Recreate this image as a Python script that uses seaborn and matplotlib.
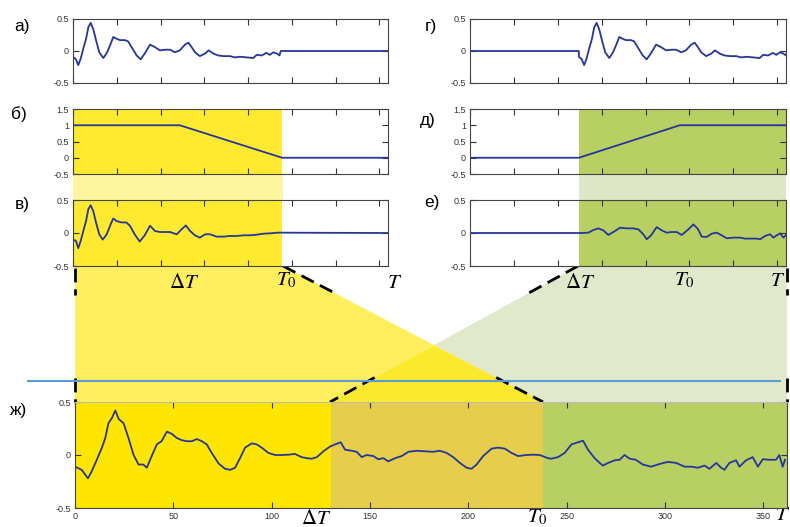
import matplotlib
matplotlib.use('Agg')
import matplotlib.pyplot as plt
from matplotlib.patches import Polygon
import seaborn as sns

W, H = 790, 527

# ---- signal values ----
# а) original record (zero after T0); г) is the same record delayed by dT
sig_a_t = [0, 3.4, 6, 8.8, 11.8, 14.9, 17.5, 20.2, 23.2, 26.3, 30, 34.7, 39, 43, 46,
           50, 53.7, 59.4, 63, 67, 72.8, 77.3, 82, 88, 93.7, 99.4, 105, 111, 116.6, 122,
           128, 132, 135.6, 139.4, 145, 151, 155, 160.4, 166, 172, 179.4, 185, 191, 198.5,
           206, 210, 215.6, 221, 225, 229, 233, 236, 237.4]
sig_a_v = [-0.09, -0.13, -0.22, -0.12, 0.04, 0.19, 0.37, 0.44, 0.34, 0.17, -0.02, -0.11, -0.02, 0.11, 0.22,
           0.19, 0.17, 0.17, 0.15, 0.06, -0.07, -0.13, -0.04, 0.10, 0.06, 0.01, 0.02, 0.02, -0.02, 0.01,
           0.10, 0.13, 0.06, -0.02, -0.08, -0.04, 0.01, -0.04, -0.07, -0.08, -0.08, -0.10, -0.09, -0.10,
           -0.11, -0.06, -0.07, -0.03, -0.06, -0.02, -0.04, -0.07, 0.0]
delay_g = 124

# в) record multiplied by the falling window
sig_c_t = [0, 3.4, 6, 8.8, 11.8, 14.9, 17.5, 20.2, 23.2, 26.3, 30, 34, 38.5, 43, 46, 50, 55.6, 61,
           65, 70.5, 76.2, 82, 88, 93.7, 99.4, 105, 111, 118.5, 124, 129, 133.5, 139.4, 145, 151,
           156.8, 164, 172, 179.4, 187, 195, 202.5, 210, 218, 225.5, 233, 238.5, 360]
sig_c_v = [-0.10, -0.12, -0.23, -0.12, 0.03, 0.18, 0.36, 0.42, 0.33, 0.16, -0.02, -0.10, -0.02, 0.13,
           0.22, 0.18, 0.16, 0.16, 0.11, -0.02, -0.13, -0.035, 0.11, 0.03, 0.015, 0.015, 0.015, -0.02,
           0.055, 0.115, 0.035, -0.035, -0.07, -0.02, -0.02, -0.055, -0.055, -0.045, -0.045, -0.035,
           -0.035, -0.025, -0.01, -0.005, 0.005, 0.005, 0.0]

# е) delayed record multiplied by the rising window
sig_e_t = [0, 124, 127.2, 134.8, 140.5, 146.2, 151.9, 157.6, 163.3, 170.9, 178.5, 186.1, 191.8, 197.5,
           201.3, 206.3, 212.7, 218.4, 224.1, 229.8, 235.5, 241.2, 248.8, 254.5, 259.4, 264, 269.7,
           275.4, 281.1, 286.8, 292.5, 300.1, 307.7, 313.4, 321, 326.7, 330.5, 336.2, 341.9, 345.7,
           349.5, 353.3, 357.1, 360]
sig_e_v = [0, 0, 0, 0.005, 0.045, 0.07, 0.04, -0.03, 0.015, 0.08, 0.07, 0.07, 0.055, -0.02, -0.095,
           -0.035, 0.09, 0.04, 0.005, 0.015, 0.015, -0.03, 0.055, 0.13, 0.065, -0.055, -0.06, -0.01,
           0.005, -0.035, -0.08, -0.07, -0.07, -0.085, -0.085, -0.085, -0.095, -0.045, -0.02, -0.07,
           -0.035, -0.005, -0.07, -0.03]

# ж) merged record
sig_zh_t = [0, 3.4, 6.6, 8.6, 11.2, 13.7, 15.4, 17, 18.8, 20.5, 22.2, 24.7, 27.2, 29.8, 32.3, 34.8,
            36.5, 39, 41.6, 44, 46.7, 49.2, 51.8, 54.3, 56.8, 59.4, 61.9, 64.5, 67, 69.5, 73, 76.3,
            78.9, 81.4, 83.9, 86.5, 89.9, 92.4, 94.9, 98.3, 101.7, 105, 108.5, 111.8, 115.2, 117.8,
            120.3, 123, 126.3, 129.7, 132.2, 135.1, 137.3, 140.7, 143.2, 145.8, 148.3, 151.7, 154.2,
            156.8, 159.3, 162.7, 166.1, 169.5, 173.7, 177.9, 182.1, 185.5, 188.9, 192.3, 195.7, 199.1,
            201.6, 204.2, 207.5, 211.8, 215.1, 218.5, 221.9, 225.3, 229.5, 232.9, 236.3, 240.5, 242.2,
            245.6, 249, 252.4, 255.7, 258.3, 260.8, 264.2, 266.8, 268.4, 271, 274.4, 276.9, 279.4, 282,
            285.1, 288.7, 292.9, 297.2, 301.4, 305.7, 309.9, 313.3, 316.7, 320.1, 322.6, 326, 328.5,
            330.2, 332.7, 336.1, 337.8, 341.2, 344.6, 347.2, 349.7, 353.1, 356.4, 358.1, 359.8, 361]
sig_zh_v = [-0.11, -0.14, -0.22, -0.15, -0.04, 0.07, 0.16, 0.30, 0.35, 0.42, 0.34, 0.30, 0.16, 0.0,
            -0.09, -0.09, -0.12, -0.01, 0.10, 0.13, 0.22, 0.20, 0.16, 0.14, 0.13, 0.13, 0.15, 0.13,
            0.10, 0.02, -0.08, -0.13, -0.14, -0.12, -0.03, 0.07, 0.11, 0.10, 0.07, 0.02, 0.0, 0.0,
            0.003, 0.01, -0.02, -0.03, -0.035, -0.02, 0.035, 0.08, 0.10, 0.12, 0.05, 0.04, 0.03,
            -0.02, 0.0, -0.01, -0.04, -0.03, -0.06, -0.03, -0.01, 0.03, 0.04, 0.035, 0.03, 0.04, 0.02,
            -0.02, -0.075, -0.12, -0.13, -0.09, -0.01, 0.06, 0.07, 0.06, 0.02, -0.01, 0.0, 0.003, 0.0,
            -0.03, -0.035, -0.02, 0.02, 0.10, 0.12, 0.135, 0.05, -0.03, -0.075, -0.10, -0.075, -0.05,
            -0.045, 0.0, -0.035, -0.045, -0.09, -0.11, -0.085, -0.065, -0.075, -0.11, -0.11, -0.12,
            -0.10, -0.13, -0.075, -0.12, -0.14, -0.075, -0.05, -0.11, -0.05, -0.02, -0.11, -0.04,
            -0.045, -0.045, 0.0, -0.11, -0.045]

# windows б) and д)
win_b_t = [0, 122, 239, 360]
win_b_v = [1, 1, 0, 0]
win_d_t = [0, 124, 239, 360]
win_d_v = [0, 0, 1, 1]

# shaded spans (x units)
span_left = (0, 239)
span_right = (124, 360)
zh_spans = [(0, 130), (130, 238), (238, 362)]

xticks = [0, 50, 100, 150, 200, 250, 300, 350]
xtick_labels = ['0', '50', '100', '150', '200', '250', '300', '350']
yticks_sig = [-0.5, 0, 0.5]
ytick_labels_sig = ['-0.5', '0', '0.5']
yticks_win = [-0.5, 0, 0.5, 1, 1.5]
ytick_labels_win = ['-0.5', '0', '0.5', '1', '1.5']
panel_names = ['а)', 'б)', 'в)', 'г)', 'д)', 'е)', 'ж)']

# ---- colours ----
line_c = '#26369b'
yellow = '#ffea30'
yellow_zh = '#ffe600'
ochre = '#e6cd4b'
green = '#b7cf63'
band_y = '#fff59e'
band_g = '#dde7c6'
fun_y = '#ffef5f'
fun_g = '#e1e9cd'
fun_both = '#fce82c'

plt.rcParams['font.family'] = ['Liberation Sans', 'DejaVu Sans']
plt.rcParams['mathtext.fontset'] = 'stix'

fig = plt.figure(figsize=(W / 100, H / 100), dpi=100)


def px_axes(x0, y0, x1, y1, z=2):
    return fig.add_axes([x0 / W, 1 - y1 / H, (x1 - x0) / W, (y1 - y0) / H], zorder=z)


# overlay in pixel coordinates for bands, funnels, connecting lines
bg = px_axes(0, 0, W, H, z=0)
bg.set_xlim(0, W)
bg.set_ylim(H, 0)
bg.axis('off')

bg.add_patch(Polygon([(73, 174), (283, 174), (283, 200), (73, 200)], color=band_y, lw=0))
bg.add_patch(Polygon([(579, 174), (786, 174), (786, 200), (579, 200)], color=band_g, lw=0))
bg.add_patch(Polygon([(578, 266), (787, 266), (787, 402), (330, 402)], color=fun_g, lw=0))
bg.add_patch(Polygon([(75, 266), (283, 266), (543, 402), (75, 402)], color=fun_y, lw=0))
bg.add_patch(Polygon([(434, 346), (543, 402), (330, 402)], color=fun_both, lw=0))


def dashed(p, q, parts=((0, 0.2), (0.82, 1))):
    for a, b in parts:
        xs = [p[0] + (q[0] - p[0]) * a, p[0] + (q[0] - p[0]) * b]
        ys = [p[1] + (q[1] - p[1]) * a, p[1] + (q[1] - p[1]) * b]
        bg.plot(xs, ys, color='black', lw=2, dashes=(5, 2.5), solid_capstyle='butt')


dashed((75, 268), (75, 402))
dashed((283, 266), (543, 402))
dashed((578, 266), (330, 402))
dashed((787, 268), (787, 402))
bg.plot([28, 780], [381, 381], color='#5b9bd5', lw=1.5)

# variable labels
lab = dict(fontsize=15, ha='center', va='center', color='black')
bg.text(184, 282, r'$\mathit{\Delta T}$', **lab)
bg.text(286, 280, r'$T_{\mathit{0}}$', **lab)
bg.text(395, 283, r'$T$', **lab)
bg.text(580, 282, r'$\mathit{\Delta T}$', **lab)
bg.text(684, 280, r'$T_{\mathit{0}}$', **lab)
bg.text(778, 281, r'$T$', **lab)
bg.text(316, 518, r'$\mathit{\Delta T}$', **lab)
bg.text(537, 517, r'$T_{\mathit{0}}$', **lab)
bg.text(790, 515, r'$T$', fontsize=15, ha='right', va='center')

# panel letters
for name, (x, y) in zip(panel_names, [(22, 27), (19, 114), (22, 205), (431, 26),
                                      (428, 120), (432, 203), (19, 411)]):
    bg.text(x, y, name, fontsize=12.5, ha='center', va='center')


def style(ax, xlim, yt, ytl, xlabels=False):
    ax.set_xlim(*xlim)
    ax.set_ylim(yt[0], yt[-1])
    ax.set_xticks(xticks)
    ax.set_xticklabels(xtick_labels if xlabels else [])
    ax.set_yticks(yt)
    ax.set_yticklabels(ytl)
    ax.set_xlabel('')
    ax.set_ylabel('')
    ax.tick_params(direction='in', length=4, width=0.8, top=True, right=True,
                   labelsize=6.5, labelcolor='#333333', color='#333333', pad=3)
    for s in ax.spines.values():
        s.set_color('#444444')
        s.set_linewidth(0.8)


def trace(ax, t, v):
    sns.lineplot(x=t, y=v, ax=ax, color=line_c, lw=1.3, sort=False, estimator=None)


# а)
ax = px_axes(73, 19, 388, 83)
trace(ax, sig_a_t + [360], sig_a_v + [0])
style(ax, (0, 360), yticks_sig, ytick_labels_sig)

# б)
ax = px_axes(73, 109, 388, 174)
ax.axvspan(*span_left, color=yellow, lw=0, zorder=0)
trace(ax, win_b_t, win_b_v)
style(ax, (0, 360), yticks_win, ytick_labels_win)

# в)
ax = px_axes(73, 200, 388, 266)
ax.axvspan(*span_left, color=yellow, lw=0, zorder=0)
trace(ax, sig_c_t, sig_c_v)
style(ax, (0, 360), yticks_sig, ytick_labels_sig)

# г)
ax = px_axes(470, 19, 786, 83)
trace(ax, [0, delay_g] + [t + delay_g for t in sig_a_t], [0, 0] + sig_a_v)
style(ax, (0, 360), yticks_sig, ytick_labels_sig)

# д)
ax = px_axes(470, 109, 786, 174)
ax.axvspan(*span_right, color=green, lw=0, zorder=0)
trace(ax, win_d_t, win_d_v)
style(ax, (0, 360), yticks_win, ytick_labels_win)

# е)
ax = px_axes(470, 200, 786, 266)
ax.axvspan(*span_right, color=green, lw=0, zorder=0)
trace(ax, sig_e_t, sig_e_v)
style(ax, (0, 360), yticks_sig, ytick_labels_sig)

# ж)
ax = px_axes(75, 402, 787, 508)
for (a, b), c in zip(zh_spans, [yellow_zh, ochre, green]):
    ax.axvspan(a, b, color=c, lw=0, zorder=0)
trace(ax, sig_zh_t, sig_zh_v)
style(ax, (0, 362), yticks_sig, ytick_labels_sig, xlabels=True)
ax.spines['top'].set_color('#bbbbbb')

fig.savefig('out.png', dpi=100)
